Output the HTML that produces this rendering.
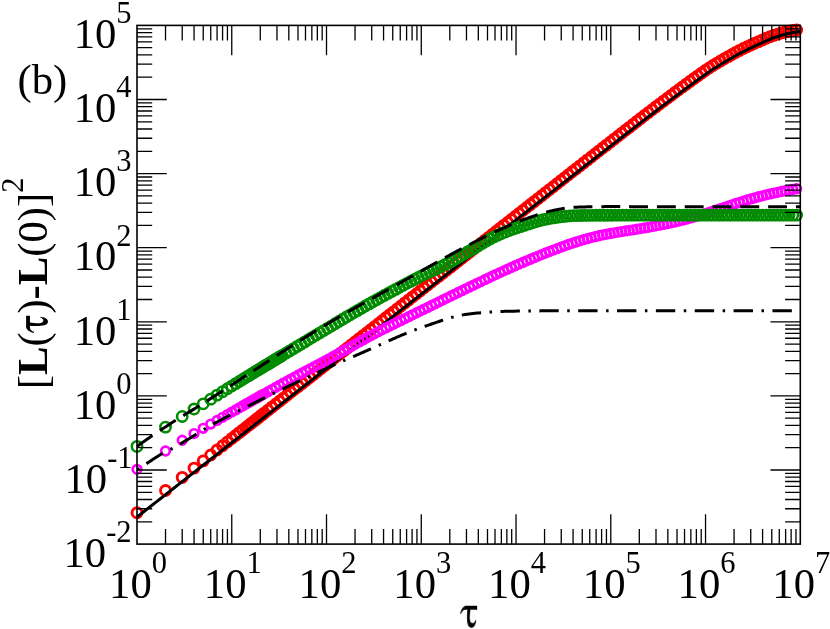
<!DOCTYPE html>
<html><head><meta charset="utf-8"><title>plot</title>
<style>html,body{margin:0;padding:0;background:#fff;}svg{display:block;}text{font-family:"Liberation Serif",serif;}</style>
</head><body><svg style="will-change:transform" width="830" height="629" viewBox="0 0 830 629"><g fill="none" stroke="#ff0000" stroke-width="2.9"><circle cx="137.00" cy="512.80" r="5.0"/><circle cx="165.52" cy="490.45" r="5.0"/><circle cx="182.21" cy="477.38" r="5.0"/><circle cx="194.05" cy="468.10" r="5.0"/><circle cx="203.23" cy="460.91" r="5.0"/><circle cx="210.74" cy="455.03" r="5.0"/><circle cx="217.08" cy="450.06" r="5.0"/><circle cx="222.57" cy="445.75" r="5.0"/><circle cx="227.42" cy="441.95" r="5.0"/><circle cx="231.76" cy="438.56" r="5.0"/><circle cx="235.68" cy="435.48" r="5.0"/><circle cx="239.26" cy="432.68" r="5.0"/><circle cx="242.55" cy="430.10" r="5.0"/><circle cx="245.60" cy="427.71" r="5.0"/><circle cx="248.44" cy="425.48" r="5.0"/><circle cx="251.10" cy="423.40" r="5.0"/><circle cx="253.59" cy="421.45" r="5.0"/><circle cx="255.95" cy="419.61" r="5.0"/><circle cx="258.17" cy="417.86" r="5.0"/><circle cx="260.28" cy="416.21" r="5.0"/><circle cx="262.29" cy="414.64" r="5.0"/><circle cx="264.20" cy="413.14" r="5.0"/><circle cx="268.01" cy="410.16" r="5.0"/><circle cx="271.81" cy="407.18" r="5.0"/><circle cx="275.61" cy="404.20" r="5.0"/><circle cx="279.42" cy="401.22" r="5.0"/><circle cx="283.22" cy="398.24" r="5.0"/><circle cx="287.02" cy="395.26" r="5.0"/><circle cx="290.82" cy="392.28" r="5.0"/><circle cx="294.63" cy="389.30" r="5.0"/><circle cx="298.43" cy="386.32" r="5.0"/><circle cx="302.23" cy="383.34" r="5.0"/><circle cx="306.04" cy="380.36" r="5.0"/><circle cx="309.84" cy="377.38" r="5.0"/><circle cx="313.64" cy="374.40" r="5.0"/><circle cx="317.44" cy="371.42" r="5.0"/><circle cx="321.25" cy="368.44" r="5.0"/><circle cx="325.05" cy="365.46" r="5.0"/><circle cx="328.85" cy="362.48" r="5.0"/><circle cx="332.66" cy="359.50" r="5.0"/><circle cx="336.46" cy="356.52" r="5.0"/><circle cx="340.26" cy="353.55" r="5.0"/><circle cx="344.06" cy="350.57" r="5.0"/><circle cx="347.87" cy="347.59" r="5.0"/><circle cx="351.67" cy="344.61" r="5.0"/><circle cx="355.47" cy="341.63" r="5.0"/><circle cx="359.27" cy="338.65" r="5.0"/><circle cx="363.08" cy="335.67" r="5.0"/><circle cx="366.88" cy="332.69" r="5.0"/><circle cx="370.68" cy="329.71" r="5.0"/><circle cx="374.49" cy="326.73" r="5.0"/><circle cx="378.29" cy="323.75" r="5.0"/><circle cx="382.09" cy="320.77" r="5.0"/><circle cx="385.89" cy="317.79" r="5.0"/><circle cx="389.70" cy="314.81" r="5.0"/><circle cx="393.50" cy="311.83" r="5.0"/><circle cx="397.30" cy="308.85" r="5.0"/><circle cx="401.11" cy="305.87" r="5.0"/><circle cx="404.91" cy="302.89" r="5.0"/><circle cx="408.71" cy="299.91" r="5.0"/><circle cx="412.51" cy="296.93" r="5.0"/><circle cx="416.32" cy="293.95" r="5.0"/><circle cx="420.12" cy="290.98" r="5.0"/><circle cx="423.92" cy="288.00" r="5.0"/><circle cx="427.73" cy="285.02" r="5.0"/><circle cx="431.53" cy="282.04" r="5.0"/><circle cx="435.33" cy="279.06" r="5.0"/><circle cx="439.13" cy="276.08" r="5.0"/><circle cx="442.94" cy="273.10" r="5.0"/><circle cx="446.74" cy="270.12" r="5.0"/><circle cx="450.54" cy="267.14" r="5.0"/><circle cx="454.35" cy="264.16" r="5.0"/><circle cx="458.15" cy="261.18" r="5.0"/><circle cx="461.95" cy="258.20" r="5.0"/><circle cx="465.75" cy="255.22" r="5.0"/><circle cx="469.56" cy="252.24" r="5.0"/><circle cx="473.36" cy="249.26" r="5.0"/><circle cx="477.16" cy="246.28" r="5.0"/><circle cx="480.97" cy="243.30" r="5.0"/><circle cx="484.77" cy="240.32" r="5.0"/><circle cx="488.57" cy="237.34" r="5.0"/><circle cx="492.37" cy="234.36" r="5.0"/><circle cx="496.18" cy="231.39" r="5.0"/><circle cx="499.98" cy="228.41" r="5.0"/><circle cx="503.78" cy="225.43" r="5.0"/><circle cx="507.59" cy="222.45" r="5.0"/><circle cx="511.39" cy="219.47" r="5.0"/><circle cx="515.19" cy="216.49" r="5.0"/><circle cx="518.99" cy="213.51" r="5.0"/><circle cx="522.80" cy="210.53" r="5.0"/><circle cx="526.60" cy="207.55" r="5.0"/><circle cx="530.40" cy="204.57" r="5.0"/><circle cx="534.20" cy="201.59" r="5.0"/><circle cx="538.01" cy="198.61" r="5.0"/><circle cx="541.81" cy="195.63" r="5.0"/><circle cx="545.61" cy="192.65" r="5.0"/><circle cx="549.42" cy="189.67" r="5.0"/><circle cx="553.22" cy="186.69" r="5.0"/><circle cx="557.02" cy="183.71" r="5.0"/><circle cx="560.82" cy="180.73" r="5.0"/><circle cx="564.63" cy="177.75" r="5.0"/><circle cx="568.43" cy="174.78" r="5.0"/><circle cx="572.23" cy="171.80" r="5.0"/><circle cx="576.04" cy="168.83" r="5.0"/><circle cx="579.84" cy="165.86" r="5.0"/><circle cx="583.64" cy="162.88" r="5.0"/><circle cx="587.44" cy="159.91" r="5.0"/><circle cx="591.25" cy="156.95" r="5.0"/><circle cx="595.05" cy="153.98" r="5.0"/><circle cx="598.85" cy="151.01" r="5.0"/><circle cx="602.66" cy="148.05" r="5.0"/><circle cx="606.46" cy="145.08" r="5.0"/><circle cx="610.26" cy="142.12" r="5.0"/><circle cx="614.06" cy="139.16" r="5.0"/><circle cx="617.87" cy="136.20" r="5.0"/><circle cx="621.67" cy="133.24" r="5.0"/><circle cx="625.47" cy="130.29" r="5.0"/><circle cx="629.28" cy="127.33" r="5.0"/><circle cx="633.08" cy="124.37" r="5.0"/><circle cx="636.88" cy="121.42" r="5.0"/><circle cx="640.68" cy="118.47" r="5.0"/><circle cx="644.49" cy="115.53" r="5.0"/><circle cx="648.29" cy="112.61" r="5.0"/><circle cx="652.09" cy="109.71" r="5.0"/><circle cx="655.90" cy="106.82" r="5.0"/><circle cx="659.70" cy="103.94" r="5.0"/><circle cx="663.50" cy="101.08" r="5.0"/><circle cx="667.30" cy="98.23" r="5.0"/><circle cx="671.11" cy="95.39" r="5.0"/><circle cx="674.91" cy="92.55" r="5.0"/><circle cx="678.71" cy="89.72" r="5.0"/><circle cx="682.52" cy="86.89" r="5.0"/><circle cx="686.32" cy="84.09" r="5.0"/><circle cx="690.12" cy="81.32" r="5.0"/><circle cx="693.92" cy="78.57" r="5.0"/><circle cx="697.73" cy="75.86" r="5.0"/><circle cx="701.53" cy="73.18" r="5.0"/><circle cx="705.33" cy="70.54" r="5.0"/><circle cx="709.13" cy="67.99" r="5.0"/><circle cx="712.94" cy="65.56" r="5.0"/><circle cx="716.74" cy="63.21" r="5.0"/><circle cx="720.54" cy="60.95" r="5.0"/><circle cx="724.35" cy="58.74" r="5.0"/><circle cx="728.15" cy="56.58" r="5.0"/><circle cx="731.95" cy="54.44" r="5.0"/><circle cx="735.75" cy="52.38" r="5.0"/><circle cx="739.56" cy="50.42" r="5.0"/><circle cx="743.36" cy="48.55" r="5.0"/><circle cx="747.16" cy="46.75" r="5.0"/><circle cx="750.97" cy="45.00" r="5.0"/><circle cx="754.77" cy="43.29" r="5.0"/><circle cx="758.57" cy="41.59" r="5.0"/><circle cx="762.37" cy="39.92" r="5.0"/><circle cx="766.18" cy="38.30" r="5.0"/><circle cx="769.98" cy="36.77" r="5.0"/><circle cx="773.78" cy="35.35" r="5.0"/><circle cx="777.59" cy="34.08" r="5.0"/><circle cx="781.39" cy="32.98" r="5.0"/><circle cx="785.19" cy="32.03" r="5.0"/><circle cx="788.99" cy="31.19" r="5.0"/><circle cx="792.80" cy="30.49" r="5.0"/><circle cx="796.60" cy="29.95" r="5.0"/></g><path d="M137.00 517.00 L139.00 515.43 L141.00 513.87 L143.00 512.30 L145.00 510.73 L147.00 509.16 L149.00 507.60 L151.00 506.03 L153.00 504.46 L155.00 502.90 L157.00 501.33 L159.00 499.76 L161.00 498.20 L163.00 496.63 L165.00 495.06 L167.00 493.49 L169.00 491.93 L171.00 490.36 L173.00 488.79 L175.00 487.23 L177.00 485.66 L179.00 484.09 L181.00 482.53 L183.00 480.96 L185.00 479.39 L187.00 477.82 L189.00 476.26 L191.00 474.69 L193.00 473.12 L195.00 471.56 L197.00 469.99 L199.00 468.42 L201.00 466.86 L203.00 465.29 L205.00 463.72 L207.00 462.15 L209.00 460.59 L211.00 459.02 L213.00 457.45 L215.00 455.89 L217.00 454.32 L219.00 452.75 L221.00 451.19 L223.00 449.62 L225.00 448.05 L227.00 446.48 L229.00 444.92 L231.00 443.35 L233.00 441.78 L235.00 440.22 L237.00 438.65 L239.00 437.08 L241.00 435.52 L243.00 433.95 L245.00 432.38 L247.00 430.81 L249.00 429.25 L251.00 427.68 L253.00 426.11 L255.00 424.55 L257.00 422.98 L259.00 421.41 L261.00 419.85 L263.00 418.28 L265.00 416.71 L267.00 415.14 L269.00 413.58 L271.00 412.01 L273.00 410.44 L275.00 408.88 L277.00 407.31 L279.00 405.74 L281.00 404.18 L283.00 402.61 L285.00 401.04 L287.00 399.47 L289.00 397.91 L291.00 396.34 L293.00 394.77 L295.00 393.21 L297.00 391.64 L299.00 390.07 L301.00 388.51 L303.00 386.94 L305.00 385.37 L307.00 383.80 L309.00 382.24 L311.00 380.67 L313.00 379.10 L315.00 377.54 L317.00 375.97 L319.00 374.40 L321.00 372.84 L323.00 371.27 L325.00 369.70 L327.00 368.13 L329.00 366.57 L331.00 365.00 L333.00 363.43 L335.00 361.87 L337.00 360.30 L339.00 358.73 L341.00 357.17 L343.00 355.60 L345.00 354.03 L347.00 352.46 L349.00 350.90 L351.00 349.33 L353.00 347.76 L355.00 346.20 L357.00 344.63 L359.00 343.06 L361.00 341.50 L363.00 339.93 L365.00 338.36 L367.00 336.79 L369.00 335.23 L371.00 333.66 L373.00 332.09 L375.00 330.53 L377.00 328.96 L379.00 327.39 L381.00 325.83 L383.00 324.26 L385.00 322.69 L387.00 321.12 L389.00 319.56 L391.00 317.99 L393.00 316.42 L395.00 314.86 L397.00 313.29 L399.00 311.72 L401.00 310.16 L403.00 308.59 L405.00 307.02 L407.00 305.45 L409.00 303.89 L411.00 302.32 L413.00 300.75 L415.00 299.19 L417.00 297.62 L419.00 296.05 L421.00 294.49 L423.00 292.92 L425.00 291.35 L427.00 289.78 L429.00 288.22 L431.00 286.65 L433.00 285.08 L435.00 283.52 L437.00 281.95 L439.00 280.38 L441.00 278.82 L443.00 277.25 L445.00 275.68 L447.00 274.11 L449.00 272.55 L451.00 270.98 L453.00 269.41 L455.00 267.85 L457.00 266.28 L459.00 264.71 L461.00 263.15 L463.00 261.58 L465.00 260.01 L467.00 258.44 L469.00 256.88 L471.00 255.31 L473.00 253.74 L475.00 252.18 L477.00 250.61 L479.00 249.04 L481.00 247.48 L483.00 245.91 L485.00 244.34 L487.00 242.77 L489.00 241.21 L491.00 239.64 L493.00 238.07 L495.00 236.51 L497.00 234.94 L499.00 233.37 L501.00 231.81 L503.00 230.24 L505.00 228.67 L507.00 227.10 L509.00 225.54 L511.00 223.97 L513.00 222.40 L515.00 220.84 L517.00 219.27 L519.00 217.70 L521.00 216.14 L523.00 214.57 L525.00 213.00 L527.00 211.43 L529.00 209.87 L531.00 208.30 L533.00 206.73 L535.00 205.17 L537.00 203.60 L539.00 202.03 L541.00 200.47 L543.00 198.90 L545.00 197.33 L547.00 195.76 L549.00 194.20 L551.00 192.63 L553.00 191.06 L555.00 189.50 L557.00 187.93 L559.00 186.36 L561.00 184.80 L563.00 183.23 L565.00 181.66 L567.00 180.10 L569.00 178.53 L571.00 176.97 L573.00 175.40 L575.00 173.84 L577.00 172.27 L579.00 170.71 L581.00 169.15 L583.00 167.59 L585.00 166.02 L587.00 164.46 L589.00 162.90 L591.00 161.34 L593.00 159.78 L595.00 158.22 L597.00 156.66 L599.00 155.10 L601.00 153.54 L603.00 151.98 L605.00 150.42 L607.00 148.86 L609.00 147.30 L611.00 145.75 L613.00 144.19 L615.00 142.63 L617.00 141.08 L619.00 139.52 L621.00 137.96 L623.00 136.41 L625.00 134.85 L627.00 133.30 L629.00 131.74 L631.00 130.19 L633.00 128.64 L635.00 127.08 L637.00 125.53 L639.00 123.98 L641.00 122.42 L643.00 120.88 L645.00 119.34 L647.00 117.80 L649.00 116.27 L651.00 114.74 L653.00 113.22 L655.00 111.70 L657.00 110.18 L659.00 108.67 L661.00 107.16 L663.00 105.66 L665.00 104.16 L667.00 102.66 L669.00 101.16 L671.00 99.67 L673.00 98.17 L675.00 96.68 L677.00 95.19 L679.00 93.70 L681.00 92.22 L683.00 90.74 L685.00 89.26 L687.00 87.79 L689.00 86.33 L691.00 84.86 L693.00 83.38 L695.00 81.90 L697.00 80.44 L699.00 78.98 L701.00 77.53 L703.00 76.10 L705.00 74.67 L707.00 73.27 L709.00 71.90 L711.00 70.56 L713.00 69.26 L715.00 67.97 L717.00 66.72 L719.00 65.48 L721.00 64.26 L723.00 63.06 L725.00 61.87 L727.00 60.69 L729.00 59.52 L731.00 58.36 L733.00 57.20 L735.00 56.08 L737.00 54.98 L739.00 53.92 L741.00 52.88 L743.00 51.86 L745.00 50.86 L747.00 49.89 L749.00 48.92 L751.00 47.97 L753.00 47.03 L755.00 46.09 L757.00 45.15 L759.00 44.22 L761.00 43.30 L763.00 42.39 L765.00 41.50 L767.00 40.63 L769.00 39.78 L771.00 38.96 L773.00 38.18 L775.00 37.43 L777.00 36.72 L779.00 36.07 L781.00 35.47 L783.00 34.91 L785.00 34.38 L787.00 33.88 L789.00 33.40 L791.00 32.96 L793.00 32.60 L795.00 32.28 L797.00 31.95 L799.00 31.60 L800.30 31.37" fill="none" stroke="#000" stroke-width="3.0"/><g fill="none" stroke="#ff00ff" stroke-width="2.7"><circle cx="137.00" cy="469.34" r="4.3"/><circle cx="165.52" cy="450.98" r="4.3"/><circle cx="182.21" cy="440.27" r="4.3"/><circle cx="194.05" cy="433.54" r="4.3"/><circle cx="203.23" cy="428.31" r="4.3"/><circle cx="210.74" cy="424.05" r="4.3"/><circle cx="217.08" cy="420.45" r="4.3"/><circle cx="222.57" cy="417.32" r="4.3"/><circle cx="227.42" cy="414.57" r="4.3"/><circle cx="231.76" cy="412.10" r="4.3"/><circle cx="235.68" cy="409.88" r="4.3"/><circle cx="239.26" cy="407.84" r="4.3"/><circle cx="242.55" cy="405.98" r="4.3"/><circle cx="245.60" cy="404.25" r="4.3"/><circle cx="248.44" cy="402.65" r="4.3"/><circle cx="251.10" cy="401.15" r="4.3"/><circle cx="253.59" cy="399.74" r="4.3"/><circle cx="255.95" cy="398.42" r="4.3"/><circle cx="258.17" cy="397.17" r="4.3"/><circle cx="260.28" cy="395.98" r="4.3"/><circle cx="262.29" cy="394.86" r="4.3"/><circle cx="264.20" cy="393.79" r="4.3"/><circle cx="268.01" cy="391.67" r="4.3"/><circle cx="271.81" cy="389.55" r="4.3"/><circle cx="275.61" cy="387.44" r="4.3"/><circle cx="279.42" cy="385.34" r="4.3"/><circle cx="283.22" cy="383.25" r="4.3"/><circle cx="287.02" cy="381.17" r="4.3"/><circle cx="290.82" cy="379.10" r="4.3"/><circle cx="294.63" cy="377.05" r="4.3"/><circle cx="298.43" cy="375.02" r="4.3"/><circle cx="302.23" cy="373.00" r="4.3"/><circle cx="306.04" cy="371.00" r="4.3"/><circle cx="309.84" cy="368.99" r="4.3"/><circle cx="313.64" cy="366.99" r="4.3"/><circle cx="317.44" cy="364.97" r="4.3"/><circle cx="321.25" cy="362.94" r="4.3"/><circle cx="325.05" cy="360.89" r="4.3"/><circle cx="328.85" cy="358.82" r="4.3"/><circle cx="332.66" cy="356.73" r="4.3"/><circle cx="336.46" cy="354.63" r="4.3"/><circle cx="340.26" cy="352.52" r="4.3"/><circle cx="344.06" cy="350.40" r="4.3"/><circle cx="347.87" cy="348.28" r="4.3"/><circle cx="351.67" cy="346.17" r="4.3"/><circle cx="355.47" cy="344.06" r="4.3"/><circle cx="359.27" cy="341.97" r="4.3"/><circle cx="363.08" cy="339.89" r="4.3"/><circle cx="366.88" cy="337.83" r="4.3"/><circle cx="370.68" cy="335.79" r="4.3"/><circle cx="374.49" cy="333.79" r="4.3"/><circle cx="378.29" cy="331.82" r="4.3"/><circle cx="382.09" cy="329.87" r="4.3"/><circle cx="385.89" cy="327.94" r="4.3"/><circle cx="389.70" cy="326.03" r="4.3"/><circle cx="393.50" cy="324.14" r="4.3"/><circle cx="397.30" cy="322.26" r="4.3"/><circle cx="401.11" cy="320.40" r="4.3"/><circle cx="404.91" cy="318.54" r="4.3"/><circle cx="408.71" cy="316.68" r="4.3"/><circle cx="412.51" cy="314.83" r="4.3"/><circle cx="416.32" cy="312.97" r="4.3"/><circle cx="420.12" cy="311.11" r="4.3"/><circle cx="423.92" cy="309.25" r="4.3"/><circle cx="427.73" cy="307.38" r="4.3"/><circle cx="431.53" cy="305.51" r="4.3"/><circle cx="435.33" cy="303.64" r="4.3"/><circle cx="439.13" cy="301.78" r="4.3"/><circle cx="442.94" cy="299.92" r="4.3"/><circle cx="446.74" cy="298.06" r="4.3"/><circle cx="450.54" cy="296.20" r="4.3"/><circle cx="454.35" cy="294.35" r="4.3"/><circle cx="458.15" cy="292.50" r="4.3"/><circle cx="461.95" cy="290.66" r="4.3"/><circle cx="465.75" cy="288.82" r="4.3"/><circle cx="469.56" cy="286.99" r="4.3"/><circle cx="473.36" cy="285.16" r="4.3"/><circle cx="477.16" cy="283.34" r="4.3"/><circle cx="480.97" cy="281.53" r="4.3"/><circle cx="484.77" cy="279.72" r="4.3"/><circle cx="488.57" cy="277.91" r="4.3"/><circle cx="492.37" cy="276.12" r="4.3"/><circle cx="496.18" cy="274.34" r="4.3"/><circle cx="499.98" cy="272.58" r="4.3"/><circle cx="503.78" cy="270.85" r="4.3"/><circle cx="507.59" cy="269.13" r="4.3"/><circle cx="511.39" cy="267.44" r="4.3"/><circle cx="515.19" cy="265.77" r="4.3"/><circle cx="518.99" cy="264.12" r="4.3"/><circle cx="522.80" cy="262.49" r="4.3"/><circle cx="526.60" cy="260.87" r="4.3"/><circle cx="530.40" cy="259.26" r="4.3"/><circle cx="534.20" cy="257.66" r="4.3"/><circle cx="538.01" cy="256.08" r="4.3"/><circle cx="541.81" cy="254.53" r="4.3"/><circle cx="545.61" cy="253.01" r="4.3"/><circle cx="549.42" cy="251.53" r="4.3"/><circle cx="553.22" cy="250.08" r="4.3"/><circle cx="557.02" cy="248.63" r="4.3"/><circle cx="560.82" cy="247.21" r="4.3"/><circle cx="564.63" cy="245.82" r="4.3"/><circle cx="568.43" cy="244.48" r="4.3"/><circle cx="572.23" cy="243.20" r="4.3"/><circle cx="576.04" cy="241.99" r="4.3"/><circle cx="579.84" cy="240.83" r="4.3"/><circle cx="583.64" cy="239.71" r="4.3"/><circle cx="587.44" cy="238.63" r="4.3"/><circle cx="591.25" cy="237.60" r="4.3"/><circle cx="595.05" cy="236.64" r="4.3"/><circle cx="598.85" cy="235.75" r="4.3"/><circle cx="602.66" cy="234.94" r="4.3"/><circle cx="606.46" cy="234.19" r="4.3"/><circle cx="610.26" cy="233.48" r="4.3"/><circle cx="614.06" cy="232.81" r="4.3"/><circle cx="617.87" cy="232.17" r="4.3"/><circle cx="621.67" cy="231.56" r="4.3"/><circle cx="625.47" cy="230.96" r="4.3"/><circle cx="629.28" cy="230.37" r="4.3"/><circle cx="633.08" cy="229.78" r="4.3"/><circle cx="636.88" cy="229.18" r="4.3"/><circle cx="640.68" cy="228.57" r="4.3"/><circle cx="644.49" cy="227.94" r="4.3"/><circle cx="648.29" cy="227.28" r="4.3"/><circle cx="652.09" cy="226.58" r="4.3"/><circle cx="655.90" cy="225.87" r="4.3"/><circle cx="659.70" cy="225.16" r="4.3"/><circle cx="663.50" cy="224.43" r="4.3"/><circle cx="667.30" cy="223.66" r="4.3"/><circle cx="671.11" cy="222.87" r="4.3"/><circle cx="674.91" cy="222.02" r="4.3"/><circle cx="678.71" cy="221.11" r="4.3"/><circle cx="682.52" cy="220.15" r="4.3"/><circle cx="686.32" cy="219.13" r="4.3"/><circle cx="690.12" cy="218.07" r="4.3"/><circle cx="693.92" cy="216.98" r="4.3"/><circle cx="697.73" cy="215.87" r="4.3"/><circle cx="701.53" cy="214.74" r="4.3"/><circle cx="705.33" cy="213.57" r="4.3"/><circle cx="709.13" cy="212.36" r="4.3"/><circle cx="712.94" cy="211.12" r="4.3"/><circle cx="716.74" cy="209.87" r="4.3"/><circle cx="720.54" cy="208.62" r="4.3"/><circle cx="724.35" cy="207.36" r="4.3"/><circle cx="728.15" cy="206.07" r="4.3"/><circle cx="731.95" cy="204.78" r="4.3"/><circle cx="735.75" cy="203.52" r="4.3"/><circle cx="739.56" cy="202.31" r="4.3"/><circle cx="743.36" cy="201.14" r="4.3"/><circle cx="747.16" cy="199.99" r="4.3"/><circle cx="750.97" cy="198.88" r="4.3"/><circle cx="754.77" cy="197.80" r="4.3"/><circle cx="758.57" cy="196.77" r="4.3"/><circle cx="762.37" cy="195.80" r="4.3"/><circle cx="766.18" cy="194.86" r="4.3"/><circle cx="769.98" cy="193.96" r="4.3"/><circle cx="773.78" cy="193.10" r="4.3"/><circle cx="777.59" cy="192.29" r="4.3"/><circle cx="781.39" cy="191.51" r="4.3"/><circle cx="785.19" cy="190.77" r="4.3"/><circle cx="788.99" cy="190.06" r="4.3"/><circle cx="792.80" cy="189.39" r="4.3"/><circle cx="796.60" cy="188.76" r="4.3"/></g><path d="M137.00 470.00 L139.00 468.65 L141.00 467.31 L143.00 465.98 L145.00 464.65 L147.00 463.34 L149.00 462.01 L151.00 460.66 L153.00 459.31 L155.00 457.98 L157.00 456.67 L159.00 455.40 L161.00 454.19 L163.00 453.05 L165.00 452.02 L167.00 451.06 L169.00 450.13 L171.00 449.16 L173.00 448.11 L175.00 447.01 L177.00 445.88 L179.00 444.73 L181.00 443.55 L183.00 442.35 L185.00 441.13 L187.00 439.91 L189.00 438.68 L191.00 437.45 L193.00 436.22 L195.00 434.99 L197.00 433.77 L199.00 432.53 L201.00 431.28 L203.00 430.04 L205.00 428.84 L207.00 427.68 L209.00 426.53 L211.00 425.40 L213.00 424.28 L215.00 423.18 L217.00 422.10 L219.00 421.03 L221.00 419.97 L223.00 418.92 L225.00 417.87 L227.00 416.83 L229.00 415.79 L231.00 414.75 L233.00 413.72 L235.00 412.69 L237.00 411.66 L239.00 410.63 L241.00 409.61 L243.00 408.59 L245.00 407.57 L247.00 406.56 L249.00 405.55 L251.00 404.54 L253.00 403.54 L255.00 402.54 L257.00 401.54 L259.00 400.55 L261.00 399.55 L263.00 398.56 L265.00 397.58 L267.00 396.59 L269.00 395.61 L271.00 394.63 L273.00 393.66 L275.00 392.68 L277.00 391.71 L279.00 390.74 L281.00 389.78 L283.00 388.81 L285.00 387.85 L287.00 386.89 L289.00 385.94 L291.00 384.99 L293.00 384.03 L295.00 383.09 L297.00 382.14 L299.00 381.20 L301.00 380.25 L303.00 379.32 L305.00 378.38 L307.00 377.44 L309.00 376.51 L311.00 375.58 L313.00 374.65 L315.00 373.73 L317.00 372.80 L319.00 371.88 L321.00 370.96 L323.00 370.04 L325.00 369.13 L327.00 368.21 L329.00 367.30 L331.00 366.39 L333.00 365.48 L335.00 364.58 L337.00 363.67 L339.00 362.77 L341.00 361.87 L343.00 360.97 L345.00 360.08 L347.00 359.20 L349.00 358.34 L351.00 357.48 L353.00 356.63 L355.00 355.79 L357.00 354.94 L359.00 354.08 L361.00 353.22 L363.00 352.34 L365.00 351.46 L367.00 350.58 L369.00 349.69 L371.00 348.80 L373.00 347.91 L375.00 347.02 L377.00 346.13 L379.00 345.23 L381.00 344.34 L383.00 343.44 L385.00 342.53 L387.00 341.62 L389.00 340.72 L391.00 339.82 L393.00 338.93 L395.00 338.05 L397.00 337.19 L399.00 336.33 L401.00 335.49 L403.00 334.65 L405.00 333.81 L407.00 332.99 L409.00 332.18 L411.00 331.38 L413.00 330.60 L415.00 329.84 L417.00 329.09 L419.00 328.36 L421.00 327.65 L423.00 326.94 L425.00 326.25 L427.00 325.56 L429.00 324.88 L431.00 324.21 L433.00 323.53 L435.00 322.85 L437.00 322.16 L439.00 321.46 L441.00 320.75 L443.00 320.06 L445.00 319.40 L447.00 318.76 L449.00 318.16 L451.00 317.60 L453.00 317.10 L455.00 316.62 L457.00 316.15 L459.00 315.69 L461.00 315.26 L463.00 314.86 L465.00 314.50 L467.00 314.18 L469.00 313.91 L471.00 313.70 L473.00 313.49 L475.00 313.30 L477.00 313.11 L479.00 312.92 L481.00 312.75 L483.00 312.58 L485.00 312.42 L487.00 312.26 L489.00 312.12 L491.00 311.98 L493.00 311.86 L495.00 311.74 L497.00 311.63 L499.00 311.54 L501.00 311.45 L503.00 311.38 L505.00 311.31 L507.00 311.26 L509.00 311.22 L511.00 311.19 L513.00 311.16 L515.00 311.13 L517.00 311.10 L519.00 311.08 L521.00 311.05 L523.00 311.03 L525.00 311.01 L527.00 310.98 L529.00 310.96 L531.00 310.94 L533.00 310.93 L535.00 310.91 L537.00 310.89 L539.00 310.88 L541.00 310.86 L543.00 310.85 L545.00 310.84 L547.00 310.83 L549.00 310.82 L551.00 310.81 L553.00 310.81 L555.00 310.80 L557.00 310.80 L559.00 310.80 L561.00 310.80 L563.00 310.80 L565.00 310.80 L567.00 310.80 L569.00 310.80 L571.00 310.80 L573.00 310.80 L575.00 310.80 L577.00 310.80 L579.00 310.80 L581.00 310.80 L583.00 310.80 L585.00 310.80 L587.00 310.80 L589.00 310.80 L591.00 310.80 L593.00 310.80 L595.00 310.80 L597.00 310.80 L599.00 310.80 L601.00 310.80 L603.00 310.80 L605.00 310.80 L607.00 310.80 L609.00 310.80 L611.00 310.80 L613.00 310.80 L615.00 310.80 L617.00 310.80 L619.00 310.80 L621.00 310.80 L623.00 310.80 L625.00 310.80 L627.00 310.80 L629.00 310.80 L631.00 310.80 L633.00 310.80 L635.00 310.80 L637.00 310.80 L639.00 310.80 L641.00 310.80 L643.00 310.80 L645.00 310.80 L647.00 310.80 L649.00 310.80 L651.00 310.80 L653.00 310.80 L655.00 310.80 L657.00 310.80 L659.00 310.80 L661.00 310.80 L663.00 310.80 L665.00 310.80 L667.00 310.80 L669.00 310.80 L671.00 310.80 L673.00 310.80 L675.00 310.80 L677.00 310.80 L679.00 310.80 L681.00 310.80 L683.00 310.80 L685.00 310.80 L687.00 310.80 L689.00 310.80 L691.00 310.80 L693.00 310.80 L695.00 310.80 L697.00 310.80 L699.00 310.80 L701.00 310.80 L703.00 310.80 L705.00 310.80 L707.00 310.80 L709.00 310.80 L711.00 310.80 L713.00 310.80 L715.00 310.80 L717.00 310.80 L719.00 310.80 L721.00 310.80 L723.00 310.80 L725.00 310.80 L727.00 310.80 L729.00 310.80 L731.00 310.80 L733.00 310.80 L735.00 310.80 L737.00 310.80 L739.00 310.80 L741.00 310.80 L743.00 310.80 L745.00 310.80 L747.00 310.80 L749.00 310.80 L751.00 310.80 L753.00 310.80 L755.00 310.80 L757.00 310.80 L759.00 310.80 L761.00 310.80 L763.00 310.80 L765.00 310.80 L767.00 310.80 L769.00 310.80 L771.00 310.80 L773.00 310.80 L775.00 310.80 L777.00 310.80 L779.00 310.80 L781.00 310.80 L783.00 310.80 L785.00 310.80 L787.00 310.80 L789.00 310.80 L791.00 310.80 L793.00 310.80 L795.00 310.80 L797.00 310.80 L799.00 310.80 L800.30 310.80" fill="none" stroke="#000" stroke-width="3.0" stroke-dasharray="19.4 8.5 2.5 8.45" stroke-dashoffset="27.5"/><g fill="none" stroke="#008b00" stroke-width="2.55"><circle cx="137.00" cy="446.40" r="5.15"/><circle cx="165.52" cy="427.12" r="5.15"/><circle cx="182.21" cy="416.47" r="5.15"/><circle cx="194.05" cy="409.03" r="5.15"/><circle cx="203.23" cy="403.80" r="5.15"/><circle cx="210.74" cy="399.15" r="5.15"/><circle cx="217.08" cy="395.12" r="5.15"/><circle cx="222.57" cy="391.71" r="5.15"/><circle cx="227.42" cy="388.72" r="5.15"/><circle cx="231.76" cy="386.06" r="5.15"/><circle cx="235.68" cy="383.65" r="5.15"/><circle cx="239.26" cy="381.46" r="5.15"/><circle cx="242.55" cy="379.44" r="5.15"/><circle cx="245.60" cy="377.58" r="5.15"/><circle cx="248.44" cy="375.85" r="5.15"/><circle cx="251.10" cy="374.23" r="5.15"/><circle cx="253.59" cy="372.71" r="5.15"/><circle cx="255.95" cy="371.28" r="5.15"/><circle cx="258.17" cy="369.93" r="5.15"/><circle cx="260.28" cy="368.65" r="5.15"/><circle cx="262.29" cy="367.43" r="5.15"/><circle cx="264.20" cy="366.27" r="5.15"/><circle cx="266.03" cy="365.16" r="5.15"/><circle cx="267.78" cy="364.10" r="5.15"/><circle cx="269.46" cy="363.09" r="5.15"/><circle cx="271.08" cy="362.11" r="5.15"/><circle cx="272.63" cy="361.17" r="5.15"/><circle cx="274.13" cy="360.27" r="5.15"/><circle cx="275.57" cy="359.40" r="5.15"/><circle cx="276.97" cy="358.56" r="5.15"/><circle cx="278.32" cy="357.74" r="5.15"/><circle cx="279.62" cy="356.96" r="5.15"/><circle cx="280.89" cy="356.19" r="5.15"/><circle cx="282.12" cy="355.45" r="5.15"/><circle cx="285.90" cy="353.18" r="5.15"/><circle cx="289.68" cy="350.91" r="5.15"/><circle cx="293.47" cy="348.64" r="5.15"/><circle cx="297.25" cy="346.37" r="5.15"/><circle cx="301.03" cy="344.10" r="5.15"/><circle cx="304.82" cy="341.84" r="5.15"/><circle cx="308.60" cy="339.58" r="5.15"/><circle cx="312.38" cy="337.32" r="5.15"/><circle cx="316.17" cy="335.07" r="5.15"/><circle cx="319.95" cy="332.82" r="5.15"/><circle cx="323.73" cy="330.57" r="5.15"/><circle cx="327.51" cy="328.31" r="5.15"/><circle cx="331.30" cy="326.05" r="5.15"/><circle cx="335.08" cy="323.79" r="5.15"/><circle cx="338.86" cy="321.53" r="5.15"/><circle cx="342.65" cy="319.28" r="5.15"/><circle cx="346.43" cy="317.04" r="5.15"/><circle cx="350.21" cy="314.80" r="5.15"/><circle cx="353.99" cy="312.58" r="5.15"/><circle cx="357.78" cy="310.38" r="5.15"/><circle cx="361.56" cy="308.19" r="5.15"/><circle cx="365.34" cy="306.03" r="5.15"/><circle cx="369.13" cy="303.89" r="5.15"/><circle cx="372.91" cy="301.77" r="5.15"/><circle cx="376.69" cy="299.67" r="5.15"/><circle cx="380.48" cy="297.58" r="5.15"/><circle cx="384.26" cy="295.50" r="5.15"/><circle cx="388.04" cy="293.43" r="5.15"/><circle cx="391.82" cy="291.38" r="5.15"/><circle cx="395.61" cy="289.35" r="5.15"/><circle cx="399.39" cy="287.32" r="5.15"/><circle cx="403.17" cy="285.32" r="5.15"/><circle cx="406.96" cy="283.33" r="5.15"/><circle cx="410.74" cy="281.36" r="5.15"/><circle cx="414.52" cy="279.41" r="5.15"/><circle cx="418.30" cy="277.47" r="5.15"/><circle cx="422.09" cy="275.56" r="5.15"/><circle cx="425.87" cy="273.68" r="5.15"/><circle cx="429.65" cy="271.88" r="5.15"/><circle cx="433.44" cy="270.12" r="5.15"/><circle cx="437.22" cy="268.38" r="5.15"/><circle cx="441.00" cy="266.61" r="5.15"/><circle cx="444.79" cy="264.79" r="5.15"/><circle cx="448.57" cy="262.89" r="5.15"/><circle cx="452.35" cy="260.87" r="5.15"/><circle cx="456.13" cy="258.73" r="5.15"/><circle cx="459.92" cy="256.53" r="5.15"/><circle cx="463.70" cy="254.28" r="5.15"/><circle cx="467.48" cy="252.03" r="5.15"/><circle cx="471.27" cy="249.82" r="5.15"/><circle cx="475.05" cy="247.65" r="5.15"/><circle cx="478.83" cy="245.41" r="5.15"/><circle cx="482.62" cy="243.16" r="5.15"/><circle cx="486.40" cy="240.96" r="5.15"/><circle cx="490.18" cy="238.85" r="5.15"/><circle cx="493.96" cy="236.89" r="5.15"/><circle cx="497.75" cy="235.15" r="5.15"/><circle cx="501.53" cy="233.53" r="5.15"/><circle cx="505.31" cy="232.00" r="5.15"/><circle cx="509.10" cy="230.55" r="5.15"/><circle cx="512.88" cy="229.18" r="5.15"/><circle cx="516.66" cy="227.87" r="5.15"/><circle cx="520.44" cy="226.62" r="5.15"/><circle cx="524.23" cy="225.41" r="5.15"/><circle cx="528.01" cy="224.19" r="5.15"/><circle cx="531.79" cy="222.98" r="5.15"/><circle cx="535.58" cy="221.82" r="5.15"/><circle cx="539.36" cy="220.73" r="5.15"/><circle cx="543.14" cy="219.77" r="5.15"/><circle cx="546.93" cy="218.95" r="5.15"/><circle cx="550.71" cy="218.31" r="5.15"/><circle cx="554.49" cy="217.73" r="5.15"/><circle cx="558.27" cy="217.18" r="5.15"/><circle cx="562.06" cy="216.69" r="5.15"/><circle cx="565.84" cy="216.26" r="5.15"/><circle cx="569.62" cy="215.92" r="5.15"/><circle cx="573.41" cy="215.69" r="5.15"/><circle cx="577.19" cy="215.57" r="5.15"/><circle cx="580.97" cy="215.50" r="5.15"/><circle cx="584.75" cy="215.43" r="5.15"/><circle cx="588.54" cy="215.37" r="5.15"/><circle cx="592.32" cy="215.32" r="5.15"/><circle cx="596.10" cy="215.28" r="5.15"/><circle cx="599.89" cy="215.25" r="5.15"/><circle cx="603.67" cy="215.23" r="5.15"/><circle cx="607.45" cy="215.21" r="5.15"/><circle cx="611.24" cy="215.20" r="5.15"/><circle cx="615.02" cy="215.19" r="5.15"/><circle cx="618.80" cy="215.18" r="5.15"/><circle cx="622.58" cy="215.17" r="5.15"/><circle cx="626.37" cy="215.17" r="5.15"/><circle cx="630.15" cy="215.16" r="5.15"/><circle cx="633.93" cy="215.15" r="5.15"/><circle cx="637.72" cy="215.15" r="5.15"/><circle cx="641.50" cy="215.14" r="5.15"/><circle cx="645.28" cy="215.14" r="5.15"/><circle cx="649.06" cy="215.13" r="5.15"/><circle cx="652.85" cy="215.13" r="5.15"/><circle cx="656.63" cy="215.12" r="5.15"/><circle cx="660.41" cy="215.12" r="5.15"/><circle cx="664.20" cy="215.11" r="5.15"/><circle cx="667.98" cy="215.11" r="5.15"/><circle cx="671.76" cy="215.11" r="5.15"/><circle cx="675.55" cy="215.11" r="5.15"/><circle cx="679.33" cy="215.10" r="5.15"/><circle cx="683.11" cy="215.10" r="5.15"/><circle cx="686.89" cy="215.10" r="5.15"/><circle cx="690.68" cy="215.10" r="5.15"/><circle cx="694.46" cy="215.10" r="5.15"/><circle cx="698.24" cy="215.10" r="5.15"/><circle cx="702.03" cy="215.10" r="5.15"/><circle cx="705.81" cy="215.10" r="5.15"/><circle cx="709.59" cy="215.10" r="5.15"/><circle cx="713.38" cy="215.10" r="5.15"/><circle cx="717.16" cy="215.10" r="5.15"/><circle cx="720.94" cy="215.10" r="5.15"/><circle cx="724.72" cy="215.10" r="5.15"/><circle cx="728.51" cy="215.10" r="5.15"/><circle cx="732.29" cy="215.10" r="5.15"/><circle cx="736.07" cy="215.10" r="5.15"/><circle cx="739.86" cy="215.10" r="5.15"/><circle cx="743.64" cy="215.10" r="5.15"/><circle cx="747.42" cy="215.10" r="5.15"/><circle cx="751.20" cy="215.10" r="5.15"/><circle cx="754.99" cy="215.10" r="5.15"/><circle cx="758.77" cy="215.10" r="5.15"/><circle cx="762.55" cy="215.10" r="5.15"/><circle cx="766.34" cy="215.10" r="5.15"/><circle cx="770.12" cy="215.10" r="5.15"/><circle cx="773.90" cy="215.10" r="5.15"/><circle cx="777.69" cy="215.10" r="5.15"/><circle cx="781.47" cy="215.10" r="5.15"/><circle cx="785.25" cy="215.10" r="5.15"/><circle cx="789.03" cy="215.10" r="5.15"/><circle cx="792.82" cy="215.10" r="5.15"/><circle cx="796.60" cy="215.10" r="5.15"/></g><path d="M137.00 446.40 L139.00 444.96 L141.00 443.52 L143.00 442.10 L145.00 440.69 L147.00 439.29 L149.00 437.90 L151.00 436.52 L153.00 435.16 L155.00 433.81 L157.00 432.47 L159.00 431.14 L161.00 429.82 L163.00 428.51 L165.00 427.21 L167.00 425.91 L169.00 424.62 L171.00 423.34 L173.00 422.06 L175.00 420.79 L177.00 419.52 L179.00 418.26 L181.00 417.02 L183.00 415.78 L185.00 414.55 L187.00 413.32 L189.00 412.10 L191.00 410.88 L193.00 409.65 L195.00 408.42 L197.00 407.18 L199.00 405.94 L201.00 404.68 L203.00 403.42 L205.00 402.16 L207.00 400.90 L209.00 399.62 L211.00 398.35 L213.00 397.07 L215.00 395.79 L217.00 394.51 L219.00 393.22 L221.00 391.93 L223.00 390.64 L225.00 389.35 L227.00 388.05 L229.00 386.75 L231.00 385.45 L233.00 384.15 L235.00 382.85 L237.00 381.54 L239.00 380.24 L241.00 378.93 L243.00 377.62 L245.00 376.31 L247.00 375.00 L249.00 373.69 L251.00 372.38 L253.00 371.08 L255.00 369.77 L257.00 368.46 L259.00 367.15 L261.00 365.84 L263.00 364.53 L265.00 363.23 L267.00 361.92 L269.00 360.62 L271.00 359.32 L273.00 358.02 L275.00 356.72 L277.00 355.42 L279.00 354.13 L281.00 352.84 L283.00 351.55 L285.00 350.26 L287.00 348.98 L289.00 347.70 L291.00 346.42 L293.00 345.15 L295.00 343.88 L297.00 342.61 L299.00 341.35 L301.00 340.09 L303.00 338.84 L305.00 337.59 L307.00 336.35 L309.00 335.11 L311.00 333.87 L313.00 332.64 L315.00 331.42 L317.00 330.20 L319.00 328.99 L321.00 327.78 L323.00 326.58 L325.00 325.38 L327.00 324.19 L329.00 323.01 L331.00 321.83 L333.00 320.66 L335.00 319.49 L337.00 318.32 L339.00 317.17 L341.00 316.01 L343.00 314.86 L345.00 313.71 L347.00 312.57 L349.00 311.43 L351.00 310.30 L353.00 309.16 L355.00 308.04 L357.00 306.91 L359.00 305.78 L361.00 304.66 L363.00 303.54 L365.00 302.43 L367.00 301.31 L369.00 300.20 L371.00 299.09 L373.00 297.98 L375.00 296.87 L377.00 295.76 L379.00 294.65 L381.00 293.54 L383.00 292.43 L385.00 291.33 L387.00 290.22 L389.00 289.11 L391.00 288.00 L393.00 286.90 L395.00 285.79 L397.00 284.68 L399.00 283.56 L401.00 282.45 L403.00 281.34 L405.00 280.22 L407.00 279.10 L409.00 277.98 L411.00 276.85 L413.00 275.73 L415.00 274.60 L417.00 273.47 L419.00 272.34 L421.00 271.21 L423.00 270.08 L425.00 268.95 L427.00 267.81 L429.00 266.68 L431.00 265.55 L433.00 264.43 L435.00 263.30 L437.00 262.18 L439.00 261.06 L441.00 259.94 L443.00 258.83 L445.00 257.72 L447.00 256.61 L449.00 255.51 L451.00 254.41 L453.00 253.32 L455.00 252.23 L457.00 251.15 L459.00 250.08 L461.00 249.01 L463.00 247.95 L465.00 246.90 L467.00 245.85 L469.00 244.82 L471.00 243.79 L473.00 242.76 L475.00 241.74 L477.00 240.72 L479.00 239.71 L481.00 238.70 L483.00 237.70 L485.00 236.71 L487.00 235.73 L489.00 234.75 L491.00 233.79 L493.00 232.84 L495.00 231.89 L497.00 230.97 L499.00 230.05 L501.00 229.15 L503.00 228.26 L505.00 227.37 L507.00 226.49 L509.00 225.61 L511.00 224.74 L513.00 223.88 L515.00 223.04 L517.00 222.21 L519.00 221.39 L521.00 220.60 L523.00 219.83 L525.00 219.08 L527.00 218.36 L529.00 217.66 L531.00 216.98 L533.00 216.30 L535.00 215.62 L537.00 214.95 L539.00 214.30 L541.00 213.67 L543.00 213.06 L545.00 212.47 L547.00 211.91 L549.00 211.39 L551.00 210.91 L553.00 210.46 L555.00 210.06 L557.00 209.68 L559.00 209.30 L561.00 208.93 L563.00 208.57 L565.00 208.24 L567.00 207.94 L569.00 207.68 L571.00 207.46 L573.00 207.30 L575.00 207.20 L577.00 207.14 L579.00 207.07 L581.00 207.02 L583.00 206.96 L585.00 206.91 L587.00 206.87 L589.00 206.82 L591.00 206.78 L593.00 206.75 L595.00 206.72 L597.00 206.69 L599.00 206.66 L601.00 206.64 L603.00 206.63 L605.00 206.61 L607.00 206.60 L609.00 206.60 L611.00 206.60 L613.00 206.60 L615.00 206.60 L617.00 206.60 L619.00 206.61 L621.00 206.61 L623.00 206.61 L625.00 206.61 L627.00 206.62 L629.00 206.62 L631.00 206.63 L633.00 206.63 L635.00 206.64 L637.00 206.64 L639.00 206.65 L641.00 206.65 L643.00 206.66 L645.00 206.67 L647.00 206.67 L649.00 206.68 L651.00 206.69 L653.00 206.69 L655.00 206.70 L657.00 206.71 L659.00 206.71 L661.00 206.72 L663.00 206.73 L665.00 206.73 L667.00 206.74 L669.00 206.75 L671.00 206.75 L673.00 206.76 L675.00 206.76 L677.00 206.77 L679.00 206.77 L681.00 206.78 L683.00 206.78 L685.00 206.79 L687.00 206.79 L689.00 206.79 L691.00 206.79 L693.00 206.80 L695.00 206.80 L697.00 206.80 L699.00 206.80 L701.00 206.80 L703.00 206.80 L705.00 206.80 L707.00 206.80 L709.00 206.80 L711.00 206.80 L713.00 206.80 L715.00 206.80 L717.00 206.80 L719.00 206.80 L721.00 206.80 L723.00 206.80 L725.00 206.80 L727.00 206.80 L729.00 206.80 L731.00 206.80 L733.00 206.80 L735.00 206.80 L737.00 206.80 L739.00 206.80 L741.00 206.80 L743.00 206.80 L745.00 206.80 L747.00 206.80 L749.00 206.80 L751.00 206.80 L753.00 206.80 L755.00 206.80 L757.00 206.80 L759.00 206.80 L761.00 206.80 L763.00 206.80 L765.00 206.80 L767.00 206.80 L769.00 206.80 L771.00 206.80 L773.00 206.80 L775.00 206.80 L777.00 206.80 L779.00 206.80 L781.00 206.80 L783.00 206.80 L785.00 206.80 L787.00 206.80 L789.00 206.80 L791.00 206.80 L793.00 206.80 L795.00 206.80 L797.00 206.80 L799.00 206.80 L800.30 206.80" fill="none" stroke="#000" stroke-width="3.0" stroke-dasharray="18.9 8.9"/><path d="M165.52 544.1 v-15.2 M165.52 25.4 v15.2 M182.21 544.1 v-15.2 M182.21 25.4 v15.2 M194.05 544.1 v-15.2 M194.05 25.4 v15.2 M203.23 544.1 v-15.2 M203.23 25.4 v15.2 M210.74 544.1 v-15.2 M210.74 25.4 v15.2 M217.08 544.1 v-15.2 M217.08 25.4 v15.2 M222.57 544.1 v-15.2 M222.57 25.4 v15.2 M227.42 544.1 v-15.2 M227.42 25.4 v15.2 M231.76 544.1 v-29.8 M231.76 25.4 v29.8 M260.28 544.1 v-15.2 M260.28 25.4 v15.2 M276.97 544.1 v-15.2 M276.97 25.4 v15.2 M288.81 544.1 v-15.2 M288.81 25.4 v15.2 M297.99 544.1 v-15.2 M297.99 25.4 v15.2 M305.49 544.1 v-15.2 M305.49 25.4 v15.2 M311.84 544.1 v-15.2 M311.84 25.4 v15.2 M317.33 544.1 v-15.2 M317.33 25.4 v15.2 M322.18 544.1 v-15.2 M322.18 25.4 v15.2 M326.51 544.1 v-29.8 M326.51 25.4 v29.8 M355.04 544.1 v-15.2 M355.04 25.4 v15.2 M371.72 544.1 v-15.2 M371.72 25.4 v15.2 M383.56 544.1 v-15.2 M383.56 25.4 v15.2 M392.75 544.1 v-15.2 M392.75 25.4 v15.2 M400.25 544.1 v-15.2 M400.25 25.4 v15.2 M406.59 544.1 v-15.2 M406.59 25.4 v15.2 M412.09 544.1 v-15.2 M412.09 25.4 v15.2 M416.94 544.1 v-15.2 M416.94 25.4 v15.2 M421.27 544.1 v-29.8 M421.27 25.4 v29.8 M449.80 544.1 v-15.2 M449.80 25.4 v15.2 M466.48 544.1 v-15.2 M466.48 25.4 v15.2 M478.32 544.1 v-15.2 M478.32 25.4 v15.2 M487.50 544.1 v-15.2 M487.50 25.4 v15.2 M495.01 544.1 v-15.2 M495.01 25.4 v15.2 M501.35 544.1 v-15.2 M501.35 25.4 v15.2 M506.85 544.1 v-15.2 M506.85 25.4 v15.2 M511.69 544.1 v-15.2 M511.69 25.4 v15.2 M516.03 544.1 v-29.8 M516.03 25.4 v29.8 M544.55 544.1 v-15.2 M544.55 25.4 v15.2 M561.24 544.1 v-15.2 M561.24 25.4 v15.2 M573.08 544.1 v-15.2 M573.08 25.4 v15.2 M582.26 544.1 v-15.2 M582.26 25.4 v15.2 M589.76 544.1 v-15.2 M589.76 25.4 v15.2 M596.11 544.1 v-15.2 M596.11 25.4 v15.2 M601.60 544.1 v-15.2 M601.60 25.4 v15.2 M606.45 544.1 v-15.2 M606.45 25.4 v15.2 M610.79 544.1 v-29.8 M610.79 25.4 v29.8 M639.31 544.1 v-15.2 M639.31 25.4 v15.2 M656.00 544.1 v-15.2 M656.00 25.4 v15.2 M667.84 544.1 v-15.2 M667.84 25.4 v15.2 M677.02 544.1 v-15.2 M677.02 25.4 v15.2 M684.52 544.1 v-15.2 M684.52 25.4 v15.2 M690.86 544.1 v-15.2 M690.86 25.4 v15.2 M696.36 544.1 v-15.2 M696.36 25.4 v15.2 M701.21 544.1 v-15.2 M701.21 25.4 v15.2 M705.54 544.1 v-29.8 M705.54 25.4 v29.8 M734.07 544.1 v-15.2 M734.07 25.4 v15.2 M750.75 544.1 v-15.2 M750.75 25.4 v15.2 M762.59 544.1 v-15.2 M762.59 25.4 v15.2 M771.78 544.1 v-15.2 M771.78 25.4 v15.2 M779.28 544.1 v-15.2 M779.28 25.4 v15.2 M785.62 544.1 v-15.2 M785.62 25.4 v15.2 M791.12 544.1 v-15.2 M791.12 25.4 v15.2 M795.96 544.1 v-15.2 M795.96 25.4 v15.2 M137.0 521.79 h15.2 M800.3 521.79 h-15.2 M137.0 508.75 h15.2 M800.3 508.75 h-15.2 M137.0 499.49 h15.2 M800.3 499.49 h-15.2 M137.0 492.31 h15.2 M800.3 492.31 h-15.2 M137.0 486.44 h15.2 M800.3 486.44 h-15.2 M137.0 481.48 h15.2 M800.3 481.48 h-15.2 M137.0 477.18 h15.2 M800.3 477.18 h-15.2 M137.0 473.39 h15.2 M800.3 473.39 h-15.2 M137.0 470.00 h29.8 M800.3 470.00 h-29.8 M137.0 447.69 h15.2 M800.3 447.69 h-15.2 M137.0 434.65 h15.2 M800.3 434.65 h-15.2 M137.0 425.39 h15.2 M800.3 425.39 h-15.2 M137.0 418.21 h15.2 M800.3 418.21 h-15.2 M137.0 412.34 h15.2 M800.3 412.34 h-15.2 M137.0 407.38 h15.2 M800.3 407.38 h-15.2 M137.0 403.08 h15.2 M800.3 403.08 h-15.2 M137.0 399.29 h15.2 M800.3 399.29 h-15.2 M137.0 395.90 h29.8 M800.3 395.90 h-29.8 M137.0 373.59 h15.2 M800.3 373.59 h-15.2 M137.0 360.55 h15.2 M800.3 360.55 h-15.2 M137.0 351.29 h15.2 M800.3 351.29 h-15.2 M137.0 344.11 h15.2 M800.3 344.11 h-15.2 M137.0 338.24 h15.2 M800.3 338.24 h-15.2 M137.0 333.28 h15.2 M800.3 333.28 h-15.2 M137.0 328.98 h15.2 M800.3 328.98 h-15.2 M137.0 325.19 h15.2 M800.3 325.19 h-15.2 M137.0 321.80 h29.8 M800.3 321.80 h-29.8 M137.0 299.49 h15.2 M800.3 299.49 h-15.2 M137.0 286.45 h15.2 M800.3 286.45 h-15.2 M137.0 277.19 h15.2 M800.3 277.19 h-15.2 M137.0 270.01 h15.2 M800.3 270.01 h-15.2 M137.0 264.14 h15.2 M800.3 264.14 h-15.2 M137.0 259.18 h15.2 M800.3 259.18 h-15.2 M137.0 254.88 h15.2 M800.3 254.88 h-15.2 M137.0 251.09 h15.2 M800.3 251.09 h-15.2 M137.0 247.70 h29.8 M800.3 247.70 h-29.8 M137.0 225.39 h15.2 M800.3 225.39 h-15.2 M137.0 212.35 h15.2 M800.3 212.35 h-15.2 M137.0 203.09 h15.2 M800.3 203.09 h-15.2 M137.0 195.91 h15.2 M800.3 195.91 h-15.2 M137.0 190.04 h15.2 M800.3 190.04 h-15.2 M137.0 185.08 h15.2 M800.3 185.08 h-15.2 M137.0 180.78 h15.2 M800.3 180.78 h-15.2 M137.0 176.99 h15.2 M800.3 176.99 h-15.2 M137.0 173.60 h29.8 M800.3 173.60 h-29.8 M137.0 151.29 h15.2 M800.3 151.29 h-15.2 M137.0 138.25 h15.2 M800.3 138.25 h-15.2 M137.0 128.99 h15.2 M800.3 128.99 h-15.2 M137.0 121.81 h15.2 M800.3 121.81 h-15.2 M137.0 115.94 h15.2 M800.3 115.94 h-15.2 M137.0 110.98 h15.2 M800.3 110.98 h-15.2 M137.0 106.68 h15.2 M800.3 106.68 h-15.2 M137.0 102.89 h15.2 M800.3 102.89 h-15.2 M137.0 99.50 h29.8 M800.3 99.50 h-29.8 M137.0 77.19 h15.2 M800.3 77.19 h-15.2 M137.0 64.15 h15.2 M800.3 64.15 h-15.2 M137.0 54.89 h15.2 M800.3 54.89 h-15.2 M137.0 47.71 h15.2 M800.3 47.71 h-15.2 M137.0 41.84 h15.2 M800.3 41.84 h-15.2 M137.0 36.88 h15.2 M800.3 36.88 h-15.2 M137.0 32.58 h15.2 M800.3 32.58 h-15.2 M137.0 28.79 h15.2 M800.3 28.79 h-15.2" stroke="#000" stroke-width="1.3" fill="none"/><rect x="137.0" y="25.4" width="663.3" height="518.7" fill="none" stroke="#000" stroke-width="1.6"/><g font-family="Liberation Serif, serif" fill="#000" opacity="0.999"><text x="131.6" y="48.1" text-anchor="end" font-size="42.7">10<tspan font-size="30.5" dy="-24.9">5</tspan></text><text x="131.6" y="122.2" text-anchor="end" font-size="42.7">10<tspan font-size="30.5" dy="-24.9">4</tspan></text><text x="131.6" y="196.3" text-anchor="end" font-size="42.7">10<tspan font-size="30.5" dy="-24.9">3</tspan></text><text x="131.6" y="270.4" text-anchor="end" font-size="42.7">10<tspan font-size="30.5" dy="-24.9">2</tspan></text><text x="131.6" y="344.5" text-anchor="end" font-size="42.7">10<tspan font-size="30.5" dy="-24.9">1</tspan></text><text x="131.6" y="418.6" text-anchor="end" font-size="42.7">10<tspan font-size="30.5" dy="-24.9">0</tspan></text><text x="132.6" y="492.7" text-anchor="end" font-size="42.7">10<tspan font-size="30.5" dy="-24.9">-1</tspan></text><text x="131.6" y="566.8" text-anchor="end" font-size="42.7">10<tspan font-size="30.5" dy="-24.9">-2</tspan></text><text x="138.0" y="597.8" text-anchor="middle" font-size="42.7">10<tspan font-size="30.5" dy="-24.9">0</tspan></text><text x="232.8" y="597.8" text-anchor="middle" font-size="42.7">10<tspan font-size="30.5" dy="-24.9">1</tspan></text><text x="327.5" y="597.8" text-anchor="middle" font-size="42.7">10<tspan font-size="30.5" dy="-24.9">2</tspan></text><text x="422.3" y="597.8" text-anchor="middle" font-size="42.7">10<tspan font-size="30.5" dy="-24.9">3</tspan></text><text x="517.0" y="597.8" text-anchor="middle" font-size="42.7">10<tspan font-size="30.5" dy="-24.9">4</tspan></text><text x="611.8" y="597.8" text-anchor="middle" font-size="42.7">10<tspan font-size="30.5" dy="-24.9">5</tspan></text><text x="706.5" y="597.8" text-anchor="middle" font-size="42.7">10<tspan font-size="30.5" dy="-24.9">6</tspan></text><text x="801.3" y="597.8" text-anchor="middle" font-size="42.7">10<tspan font-size="30.5" dy="-24.9">7</tspan></text><text x="17.5" y="93.9" font-size="42.7">(b)</text><path transform="translate(460.07,627.66) scale(0.04610) translate(-175,-600)" d="M175,295 C185,240 215,170 260,140 C285,125 300,125 320,125 L545,125 L545,210 L400,208 C390,270 383,350 385,410 C387,460 410,497 445,500 C480,500 497,470 505,437 L525,437 C520,500 490,600 420,600 C355,600 325,520 325,400 C325,330 328,260 332,208 L280,210 C240,212 215,245 195,297 Z"/><g transform="translate(46.7,389.2) rotate(-90)"><text x="0.00" y="0" font-size="42.7">[</text><text x="14.20" y="0" font-size="42.7" font-weight="bold">L</text><text x="42.70" y="0" font-size="42.7">(</text><path transform="translate(56.300000000000004,1.3) scale(0.04610) translate(-175,-600)" d="M175,295 C185,240 215,170 260,140 C285,125 300,125 320,125 L545,125 L545,210 L400,208 C390,270 383,350 385,410 C387,460 410,497 445,500 C480,500 497,470 505,437 L525,437 C520,500 490,600 420,600 C355,600 325,520 325,400 C325,330 328,260 332,208 L280,210 C240,212 215,245 195,297 Z"/><text x="75.60" y="0" font-size="42.7">)</text><text x="89.80" y="0" font-size="42.7" font-weight="bold">-</text><text x="104.00" y="0" font-size="42.7" font-weight="bold">L</text><text x="132.50" y="0" font-size="42.7">(</text><text x="146.70" y="0" font-size="42.7">0</text><text x="168.05" y="0" font-size="42.7">)</text><text x="182.25" y="0" font-size="42.7">]</text><text x="196.45" y="-23.8" font-size="30.5">2</text></g></g></svg></body></html>
